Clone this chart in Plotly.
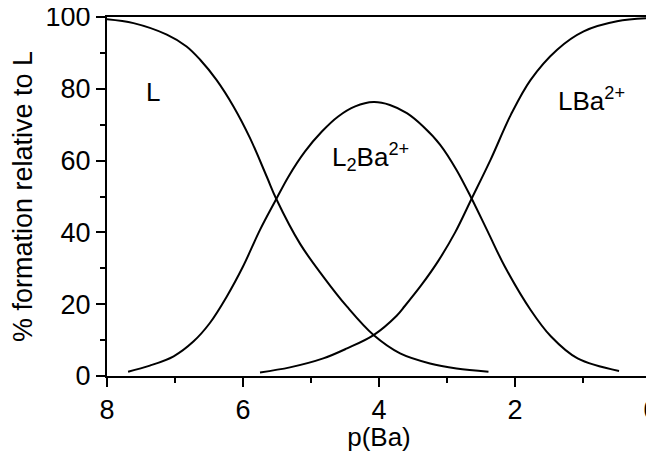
import plotly.graph_objects as go

# species distribution vs p(Ba)
l_x = [8.0, 7.61, 7.12, 6.83, 6.63, 6.39, 6.14, 5.90, 5.65, 5.51, 5.16, 4.82,
       4.47, 4.08, 3.69, 3.25, 2.86, 2.39]
l_y = [99.4, 98.3, 95.1, 91.8, 88.1, 82.5, 75.1, 66.4, 55.5, 49.3, 36.8, 27.7,
       19.3, 11.4, 6.3, 3.5, 2.1, 1.2]

l2ba_x = [7.69, 7.37, 7.02, 6.73, 6.49, 6.24, 6.00, 5.75, 5.53, 5.33, 5.09,
          4.84, 4.60, 4.35, 4.08, 3.84, 3.59, 3.35, 3.10, 2.86, 2.64, 2.39,
          2.15, 1.77, 1.47, 1.08, 0.47]
l2ba_y = [1.2, 2.9, 5.5, 9.6, 14.7, 22.1, 30.5, 40.7, 48.6, 55.6, 62.5, 68.1,
          72.3, 75.1, 76.3, 75.5, 73.2, 69.5, 64.4, 57.4, 49.5, 39.8, 30.5,
          18.4, 11.0, 4.9, 1.4]

lba_x = [5.75, 5.31, 4.82, 4.47, 4.08, 3.74, 3.62, 3.37, 3.13, 2.88, 2.64,
         2.36, 2.06, 1.77, 1.38, 0.99, 0.50, 0.0]
lba_y = [1.0, 2.4, 4.9, 7.7, 11.4, 16.8, 19.5, 25.5, 32.0, 40.0, 49.3, 60.2,
         72.8, 82.5, 90.9, 96.0, 98.8, 99.7]

labels = ["L", "L<sub>2</sub>Ba<sup>2+</sup>", "LBa<sup>2+</sup>"]
label_x = [7.32, 4.12, 0.88]
label_y = [79, 61, 77]

FONT = "Liberation Sans, Arial, sans-serif"

fig = go.Figure()
for xs, ys in [(l_x, l_y), (l2ba_x, l2ba_y), (lba_x, lba_y)]:
    fig.add_trace(go.Scatter(x=xs, y=ys, mode="lines",
                             line=dict(color="black", width=2, shape="spline",
                                       smoothing=1),
                             showlegend=False, hoverinfo="skip"))

for txt, ax_, ay_ in zip(labels, label_x, label_y):
    fig.add_annotation(x=ax_, y=ay_, text=txt, showarrow=False,
                       font=dict(size=26, color="black"))

axis_common = dict(showline=True, linecolor="black", linewidth=2, mirror=True,
                   ticks="outside", ticklen=9, tickwidth=2, tickcolor="black",
                   showgrid=False, zeroline=False, automargin=False,
                   ticklabeloverflow="allow",
                   tickfont=dict(size=27, color="black"))

fig.update_xaxes(range=[8, 0], dtick=2, tick0=0,
                 minor=dict(dtick=1, ticks="outside", ticklen=5, tickwidth=2,
                            tickcolor="black", showgrid=False),
                 title=dict(text="p(Ba)", font=dict(size=26, color="black"),
                            standoff=0),
                 **axis_common)
fig.update_yaxes(range=[0, 100], dtick=20,
                 minor=dict(dtick=10, ticks="outside", ticklen=5, tickwidth=2,
                            tickcolor="black", showgrid=False),
                 title=dict(text="% formation relative to L",
                            font=dict(size=27, color="black"), standoff=6),
                 **axis_common)

# page body adds an 8px offset, so the figure is 8px smaller and margins shifted
fig.update_layout(width=646, height=444, plot_bgcolor="white",
                  paper_bgcolor="white", font=dict(family=FONT),
                  margin=dict(l=99, r=3, t=9, b=76))

fig.write_html("out.html")
